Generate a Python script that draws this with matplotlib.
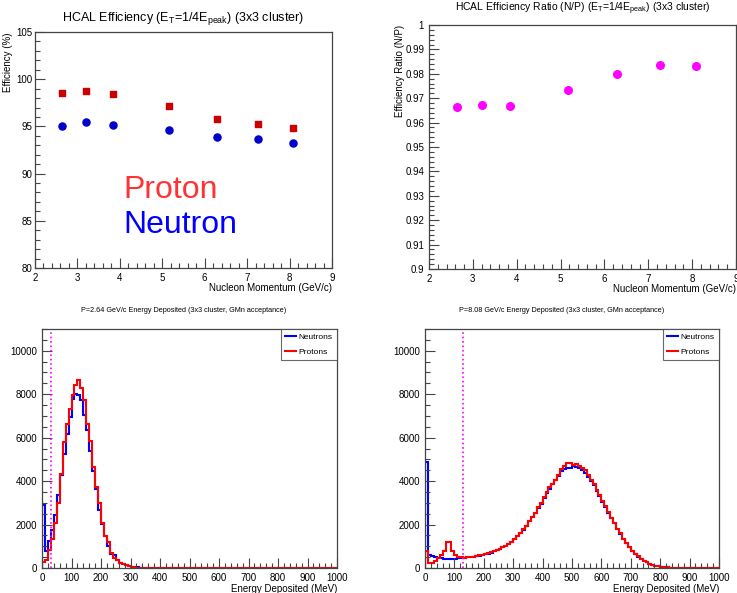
import numpy as np
import matplotlib.pyplot as plt
from matplotlib.ticker import MultipleLocator

plt.rcParams['font.family'] = ['Liberation Sans', 'DejaVu Sans']
plt.rcParams['mathtext.fontset'] = 'custom'
plt.rcParams['mathtext.rm'] = 'Liberation Sans'

# efficiency vs nucleon momentum
momentum = [2.64, 3.20, 3.85, 5.17, 6.28, 7.26, 8.08]
eff_proton = [98.52, 98.77, 98.38, 97.18, 95.81, 95.28, 94.86]
eff_neutron = [95.07, 95.42, 95.11, 94.58, 93.84, 93.70, 93.24]
eff_ratio = [0.9663, 0.9671, 0.9668, 0.9732, 0.9801, 0.9837, 0.9832]

# energy deposited histograms, 10 MeV bins from 0 to 1000 MeV
bin_edges = np.arange(0, 1001, 10)
cut_low = 32    # 1/4 of peak, P=2.64 GeV/c
cut_high = 128  # 1/4 of peak, P=8.08 GeV/c

low_neutrons = [
    2900, 780, 1230, 1770, 2460, 3350, 4300, 5260, 6180, 6970,
    7770, 8030, 7950, 7720, 7030, 6350, 5380, 4460, 3620, 2690,
    2030, 1460, 1000, 650, 620, 380, 250, 170, 120, 80,
    50, 35, 25, 18, 12, 9, 7, 5, 4, 3,
    2, 2, 1, 1, 1, 1, 0, 0, 0, 0,
    0, 0, 0, 0, 0, 0, 0, 0, 0, 0,
    0, 0, 0, 0, 0, 0, 0, 0, 0, 0,
    0, 0, 0, 0, 0, 0, 0, 0, 0, 0,
    0, 0, 0, 0, 0, 0, 0, 0, 0, 0,
    0, 0, 0, 0, 0, 0, 0, 0, 0, 0,
]
low_protons = [
    280, 350, 820, 1350, 2080, 3000, 4340, 5800, 6650, 7300,
    7950, 8400, 8650, 8300, 7750, 6650, 5850, 4650, 3750, 3000,
    2080, 1450, 1200, 700, 480, 350, 230, 170, 120, 80,
    50, 30, 20, 15, 10, 7, 5, 3, 2, 1,
    1, 1, 1, 0, 0, 0, 0, 0, 0, 0,
    0, 0, 0, 0, 0, 0, 0, 0, 0, 0,
    0, 0, 0, 0, 0, 0, 0, 0, 0, 0,
    0, 0, 0, 0, 0, 0, 0, 0, 0, 0,
    0, 0, 0, 0, 0, 0, 0, 0, 0, 0,
    0, 0, 0, 0, 0, 0, 0, 0, 0, 0,
]
high_neutrons = [
    4900, 600, 550, 500, 470, 450, 430, 420, 410, 410,
    420, 440, 460, 480, 490, 500, 520, 540, 570, 600,
    630, 660, 700, 760, 820, 880, 950, 1020, 1100, 1200,
    1320, 1450, 1600, 1750, 1950, 2150, 2350, 2550, 2750, 2950,
    3200, 3450, 3650, 3850, 4050, 4250, 4450, 4550, 4600, 4600,
    4700, 4650, 4600, 4500, 4350, 4200, 4000, 3800, 3550, 3300,
    3050, 2800, 2550, 2300, 2050, 1800, 1550, 1350, 1150, 950,
    780, 640, 520, 420, 330, 260, 200, 150, 110, 80,
    60, 45, 30, 22, 15, 10, 7, 5, 4, 3,
    2, 2, 1, 1, 1, 1, 0, 0, 0, 0,
]
high_protons = [
    800, 250, 250, 300, 450, 600, 800, 1200, 1200, 800,
    600, 520, 500, 480, 490, 500, 520, 550, 580, 610,
    640, 670, 720, 780, 830, 890, 950, 1030, 1100, 1200,
    1330, 1470, 1620, 1800, 1950, 2150, 2350, 2550, 2800, 3000,
    3250, 3500, 3750, 3850, 4050, 4300, 4550, 4700, 4850, 4850,
    4750, 4800, 4700, 4600, 4500, 4300, 4050, 3850, 3600, 3350,
    3100, 2850, 2600, 2300, 2050, 1800, 1600, 1350, 1150, 950,
    800, 650, 530, 420, 340, 270, 200, 150, 110, 80,
    60, 45, 32, 23, 16, 11, 8, 6, 4, 3,
    2, 2, 1, 1, 1, 0, 0, 0, 0, 0,
]


def root_style(ax, xmajor, xminor, ymajor, yminor):
    ax.xaxis.set_major_locator(MultipleLocator(xmajor))
    ax.xaxis.set_minor_locator(MultipleLocator(xminor))
    ax.yaxis.set_major_locator(MultipleLocator(ymajor))
    ax.yaxis.set_minor_locator(MultipleLocator(yminor))
    ax.tick_params(which='both', direction='in', top=False, right=False,
                   labelsize=7, width=0.8, color='#444444')
    ax.tick_params(which='major', length=7)
    ax.tick_params(which='minor', length=3.5)
    for s in ax.spines.values():
        s.set_linewidth(0.9)
        s.set_color('#444444')


W, H = 737, 593
fig = plt.figure(figsize=(W / 100, H / 100), dpi=100)


def px_axes(left, top, right, bottom):
    return fig.add_axes([left / W, 1 - bottom / H, (right - left) / W, (bottom - top) / H])


# top left: efficiency
ax1 = px_axes(35, 32, 332, 268)
ax1.scatter(momentum, eff_proton, marker='s', s=22, color='#cc0000', zorder=3)
ax1.scatter(momentum, eff_neutron, marker='o', s=26, color='#0000cc', zorder=3)
ax1.set_xlim(2, 9)
ax1.set_ylim(80, 105)
root_style(ax1, 1, 0.2, 5, 1)
ax1.tick_params(axis='y', pad=2)
ax1.set_title('HCAL Efficiency (E$_\\mathregular{T}$=1/4E$_\\mathregular{peak}$) (3x3 cluster)',
              fontsize=9, pad=8)
ax1.set_xlabel('Nucleon Momentum (GeV/c)', loc='right', fontsize=7, labelpad=0)
ax1.set_ylabel('Efficiency (%)', loc='top', fontsize=7)
ax1.yaxis.set_label_coords(-22 / 297, 1.0)
ax1.text(0.297, 0.297, 'Proton', color='#ff3333', fontsize=23, transform=ax1.transAxes)
ax1.text(0.297, 0.148, 'Neutron', color='#0000ff', fontsize=23, transform=ax1.transAxes)

# top right: ratio
ax2 = px_axes(429, 25, 736, 269)
ax2.scatter(momentum, eff_ratio, marker='o', s=30, color='#ff00ff', zorder=3)
ax2.set_xlim(2, 9)
ax2.set_ylim(0.9, 1.0)
root_style(ax2, 1, 0.2, 0.01, 0.002)
ax2.set_yticks(np.round(np.arange(0.9, 1.0001, 0.01), 2))
ax2.set_yticklabels(['0.9', '0.91', '0.92', '0.93', '0.94', '0.95', '0.96',
                     '0.97', '0.98', '0.99', '1'])
ax2.set_title('HCAL Efficiency Ratio (N/P) (E$_\\mathregular{T}$=1/4E$_\\mathregular{peak}$) (3x3 cluster)',
              fontsize=7.5, pad=10)
ax2.set_xlabel('Nucleon Momentum (GeV/c)', loc='right', fontsize=7, labelpad=0)
ax2.set_ylabel('Efficiency Ratio (N/P)', loc='top', fontsize=7)
ax2.yaxis.set_label_coords(-24 / 307, 1.0)

# bottom: energy deposited
panels = [
    (px_axes(42, 329, 337, 568), low_neutrons, low_protons, cut_low,
     'P=2.64 GeV/c Energy Deposited (3x3 cluster, GMn acceptance)', 184),
    (px_axes(425, 329, 719, 568), high_neutrons, high_protons, cut_high,
     'P=8.08 GeV/c Energy Deposited (3x3 cluster, GMn acceptance)', 562),
]
for ax, neut, prot, cut, title, tx in panels:
    ax.stairs(neut, bin_edges, color='#0000ff', linewidth=1.5, label='Neutrons')
    ax.stairs(prot, bin_edges, color='#ff0000', linewidth=1.5, label='Protons')
    ax.axvline(cut, color='#ff00ff', linestyle=':', linewidth=1.2)
    ax.set_xlim(0, 1000)
    ax.set_ylim(0, 11000)
    root_style(ax, 100, 20, 2000, 500)
    ax.set_xlabel('Energy Deposited (MeV)', loc='right', fontsize=7, labelpad=1)
    leg = ax.legend(loc='upper right', fontsize=6, frameon=True, fancybox=False,
                    edgecolor='#444444', borderaxespad=0, handlelength=1.4,
                    handletextpad=0.3, borderpad=0.5, labelspacing=0.8)
    leg.get_frame().set_linewidth(0.8)
    fig.text(tx / W, 1 - 311 / H, title, fontsize=5.2, ha='center', va='center')

fig.savefig('out.png', dpi=100)
